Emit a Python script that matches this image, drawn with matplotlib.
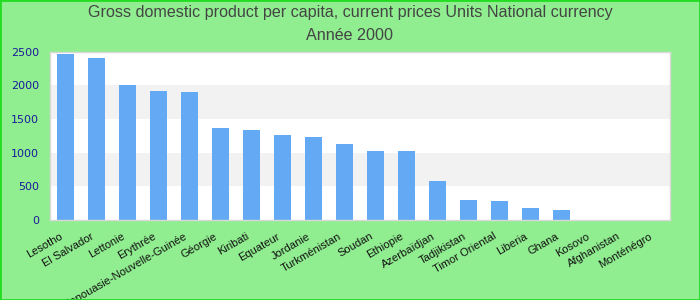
import matplotlib
matplotlib.use("Agg")
import matplotlib.pyplot as plt
import matplotlib.transforms as mtransforms
from matplotlib.patches import Rectangle

countries = ["Lesotho", "El Salvador", "Lettonie", "Erythrée", "Papouasie-Nouvelle-Guinée",
             "Géorgie", "Kiribati", "Equateur", "Jordanie", "Turkménistan", "Soudan",
             "Ethiopie", "Azerbaïdjan", "Tadjikistan", "Timor Oriental", "Liberia",
             "Ghana", "Kosovo", "Afghanistan", "Monténégro"]
values = [2463, 2404, 2003, 1914, 1899, 1365, 1335, 1261, 1231, 1128, 1024,
          1024, 579, 297, 282, 178, 148, 0, 0, 0]
yticks = [0, 500, 1000, 1500, 2000, 2500]

fig = plt.figure(figsize=(7, 3), dpi=100)
fig.patch.set_facecolor("#90EE90")
fig.patches.append(Rectangle((0, 0), 1, 1, transform=fig.transFigure, fill=False,
                             edgecolor="#22dd22", linewidth=2, zorder=10))

ax = fig.add_axes([50/700, 80/300, 620/700, 168.5/300])
ax.set_facecolor("white")
for i in range(len(yticks) - 1):
    if i % 2 == 1:
        ax.axhspan(yticks[i], yticks[i+1], color="#f2f2f2", zorder=0, lw=0)

x = list(range(len(countries)))
ax.bar(x, values, width=0.55, color="#63a9f4", zorder=2)
ax.set_xlim(-0.5, len(countries) - 0.5)
ax.set_ylim(0, 2500)
ax.set_yticks(yticks)
ax.set_yticklabels([str(v) for v in yticks], color="#1a1a99", fontsize=8,
                   family="DejaVu Sans")
ax.set_xticks(x)
ax.set_xticklabels(countries, rotation=30, ha="right", rotation_mode="anchor",
                   fontsize=8, family="Liberation Sans", color="#111111")
ax.tick_params(axis="both", length=0)
ax.tick_params(axis="y", pad=8)
ax.tick_params(axis="x", pad=8)
offset = mtransforms.ScaledTranslation(-6/100, 0, fig.dpi_scale_trans)
for lbl in ax.get_xticklabels():
    lbl.set_transform(lbl.get_transform() + offset)
for s in ax.spines.values():
    s.set_color("#d8d8d8")
    s.set_linewidth(1)

fig.text(0.5, 1 - 13/300, "Gross domestic product per capita, current prices Units National currency",
         ha="center", va="center", fontsize=11.6, family="Liberation Sans", color="#444444")
fig.text(0.5, 1 - 36/300, "Année 2000", ha="center", va="center", fontsize=11.6,
         family="Liberation Sans", color="#444444")

fig.savefig("out.png", dpi=100, facecolor=fig.get_facecolor())
